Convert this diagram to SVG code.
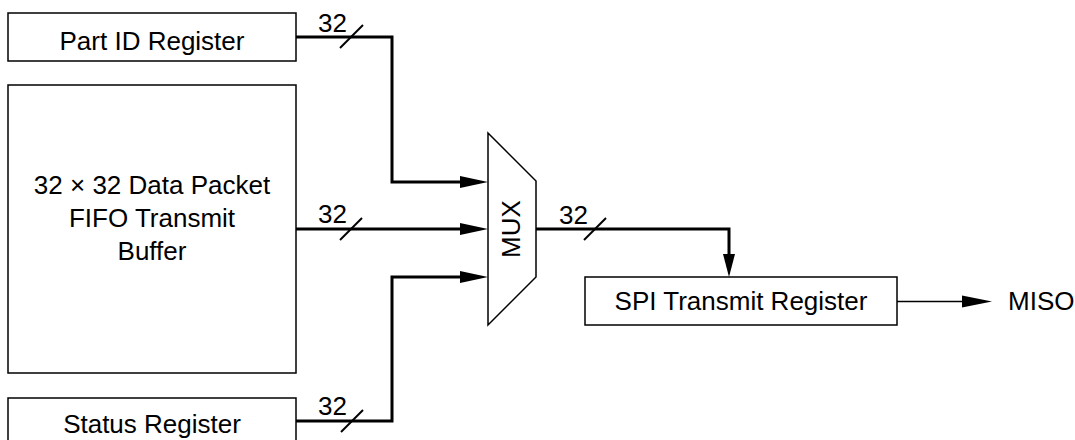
<svg xmlns="http://www.w3.org/2000/svg" width="1075" height="440" viewBox="0 0 1075 440">
<defs>
<style>
.box{fill:#fff;stroke:#000;stroke-width:1.5}
.t{font-family:"Liberation Sans",Arial,Helvetica,sans-serif;font-size:26px;fill:#000}
.c{text-anchor:middle}
.w{fill:none;stroke:#000;stroke-width:3}
.thin{fill:none;stroke:#000;stroke-width:1.5}
.sl{stroke:#000;stroke-width:2}
</style>
</defs>
<rect width="1075" height="440" fill="#fff"/>
<g id="connectors">
<path class="w" d="M296,37 H392 V182 H462"/>
<path class="w" d="M296,229 H462"/>
<path class="w" d="M296,421 H392 V277 H462"/>
<path d="M460,176 L488,182 L460,188 Z"/>
<path d="M460,223 L488,229 L460,235 Z"/>
<path d="M460,271 L488,277 L460,283 Z"/>
<path class="w" d="M536,229 H729 V256"/>
<path d="M723,254 L729,277 L735,254 Z"/>
<path class="thin" d="M897,301.5 H965"/>
<path d="M962,295.5 L992,301.5 L962,307.5 Z"/>
<line class="sl" x1="340" y1="48" x2="363" y2="25"/>
<line class="sl" x1="340" y1="240" x2="362" y2="218"/>
<line class="sl" x1="341" y1="432" x2="363" y2="410"/>
<line class="sl" x1="584" y1="240" x2="606" y2="218"/>
<text class="t" x="318" y="32">32</text>
<text class="t" x="318" y="223">32</text>
<text class="t" x="318" y="415">32</text>
<text class="t" x="559" y="224">32</text>
</g>
<g id="part-id">
<rect class="box" x="8" y="13" width="288" height="48"/>
<text class="t c" x="152" y="49.5">Part ID Register</text>
</g>
<g id="fifo">
<rect class="box" x="8" y="85" width="288" height="288"/>
<text class="t c" x="152" y="194">32 × 32 Data Packet</text>
<text class="t c" x="152" y="227">FIFO Transmit</text>
<text class="t c" x="152" y="260">Buffer</text>
</g>
<g id="status">
<rect class="box" x="8" y="398" width="288" height="50"/>
<text class="t c" x="152" y="433">Status Register</text>
</g>
<g id="mux">
<path class="box" d="M488,133 L536,181 V277 L488,325 Z"/>
<text class="t c" transform="translate(520,229) rotate(-90)" x="0" y="0">MUX</text>
</g>
<g id="spi">
<rect class="box" x="585" y="277" width="312" height="48"/>
<text class="t c" x="741" y="310">SPI Transmit Register</text>
</g>
<g id="miso">
<text class="t" x="1008" y="310">MISO</text>
</g>
</svg>
